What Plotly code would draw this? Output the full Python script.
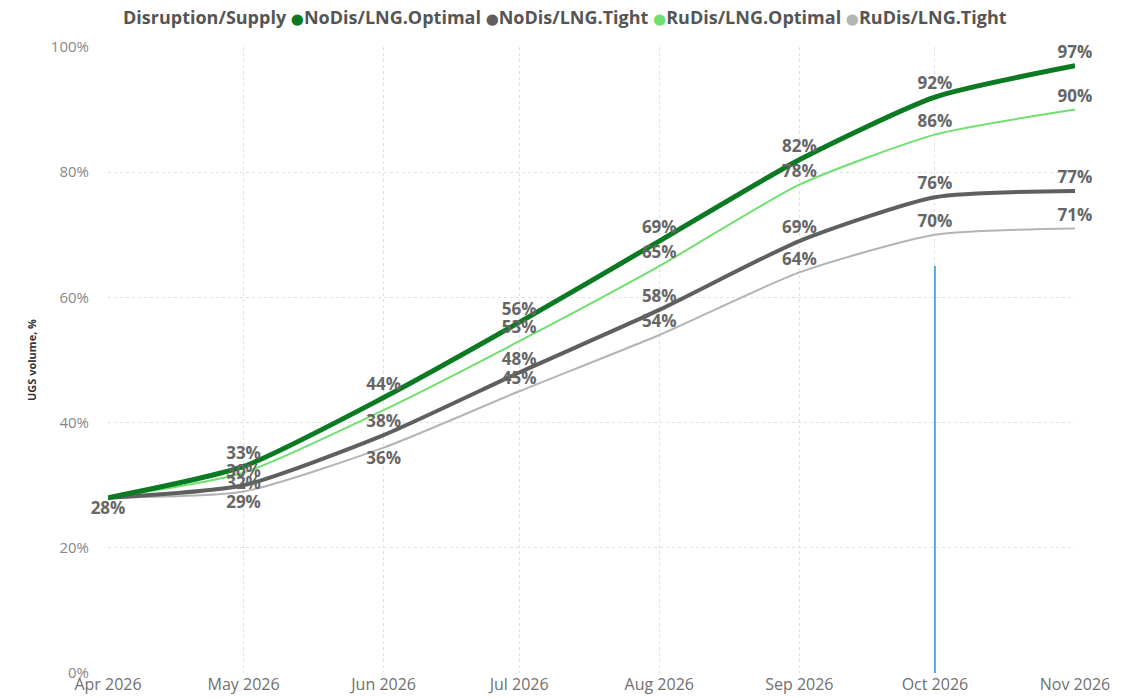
import plotly.graph_objects as go

months = ["2026-04-01", "2026-05-01", "2026-06-01", "2026-07-01",
          "2026-08-01", "2026-09-01", "2026-10-01", "2026-11-01"]
month_labels = ["Apr 2026", "May 2026", "Jun 2026", "Jul 2026",
                "Aug 2026", "Sep 2026", "Oct 2026", "Nov 2026"]

legend_title = "Disruption/Supply"
series_names = ["NoDis/LNG.Optimal", "NoDis/LNG.Tight", "RuDis/LNG.Optimal", "RuDis/LNG.Tight"]

nodis_optimal = [0.28, 0.33, 0.44, 0.56, 0.69, 0.82, 0.92, 0.97]
nodis_tight = [0.28, 0.30, 0.38, 0.48, 0.58, 0.69, 0.76, 0.77]
rudis_optimal = [0.28, 0.32, 0.42, 0.53, 0.65, 0.78, 0.86, 0.90]
rudis_tight = [0.28, 0.29, 0.36, 0.45, 0.54, 0.64, 0.70, 0.71]

# label visibility / position per point (styling)
nodis_optimal_pos = ["", "top center", "top center", "top center", "top center", "top center", "top center", "top center"]
nodis_tight_pos = ["bottom center", "top center", "top center", "top center", "top center", "top center", "top center", "top center"]
rudis_optimal_pos = ["", "bottom center", "", "top center", "top center", "top center", "top center", "top center"]
rudis_tight_pos = ["", "bottom center", "bottom center", "top center", "top center", "top center", "top center", "top center"]

marker_x = ["2026-10-01", "2026-10-01"]
marker_y = [0.0, 0.65]

colors = ["#0b7a22", "#5f5f5f", "#6fe06f", "#b4b4b4"]
widths = [5, 4, 2, 2]
values = [nodis_optimal, nodis_tight, rudis_optimal, rudis_tight]
positions = [nodis_optimal_pos, nodis_tight_pos, rudis_optimal_pos, rudis_tight_pos]

fig = go.Figure()

label_font = dict(family="Open Sans", size=17, color="#666666", weight="bold")

for i in reversed(range(4)):
    fig.add_trace(go.Scatter(
        x=months, y=values[i], mode="lines", name=series_names[i],
        line=dict(color=colors[i], width=widths[i], shape="spline", smoothing=0.6),
        showlegend=False, hoverinfo="skip"))

for i in range(4):
    pos = positions[i]
    xs = [m for m, p in zip(months, pos) if p]
    ys = [v for v, p in zip(values[i], pos) if p]
    ps = [p for p in pos if p]
    fig.add_trace(go.Scatter(
        x=xs, y=ys, mode="markers+text", text=[f"{round(v*100)}%" for v in ys],
        marker=dict(size=4, opacity=0),
        textposition=ps, textfont=label_font, showlegend=False,
        cliponaxis=False, hoverinfo="skip"))

fig.add_trace(go.Scatter(
    x=marker_x, y=marker_y, mode="lines",
    line=dict(color="#5ba8e0", width=2), showlegend=False, hoverinfo="skip"))

# compact legend as a single text line
legend_parts = [f"<b>{legend_title}</b>"]
for name, color in zip(series_names, colors):
    legend_parts.append(
        f"<span style='color:{color};font-family:DejaVu Sans;font-size:15px'>●</span>"
        f"<b>{name}</b>")
legend_text = " ".join(legend_parts)

fig.add_annotation(
    text=legend_text, xref="paper", yref="paper",
    x=0.473, y=1.0, xanchor="center", yanchor="middle", yshift=30,
    showarrow=False,
    font=dict(family="Open Sans", size=18, color="#555555"),
)

fig.update_layout(
    width=1116, height=690,
    paper_bgcolor="white", plot_bgcolor="white",
    margin=dict(l=100, r=49, t=39, b=25, autoexpand=False),
    font=dict(family="Open Sans", color="#666666"),
    showlegend=False,
    xaxis=dict(
        type="date", range=["2026-04-01", "2026-11-01"],
        tickvals=months, ticktext=month_labels,
        tickfont=dict(size=16, color="#707070"),
        showgrid=True, gridcolor="#e0e0e0", griddash="dot", gridwidth=1,
        zeroline=False, showline=False, ticks="", ticklabelstandoff=0,
        automargin=False,
    ),
    yaxis=dict(
        range=[0, 1.0], tickvals=[0, 0.2, 0.4, 0.6, 0.8, 1.0],
        tickformat=".0%", tickfont=dict(size=15, color="#888888"),
        showgrid=True, gridcolor="#e0e0e0", griddash="dot", gridwidth=1,
        zeroline=False, showline=False, ticks="", ticklabelstandoff=18,
        automargin=False,
        title=dict(text="UGS volume, %", standoff=12,
                   font=dict(size=11, color="#333333", weight="bold")),
    ),
)

fig.write_html("out.html")
